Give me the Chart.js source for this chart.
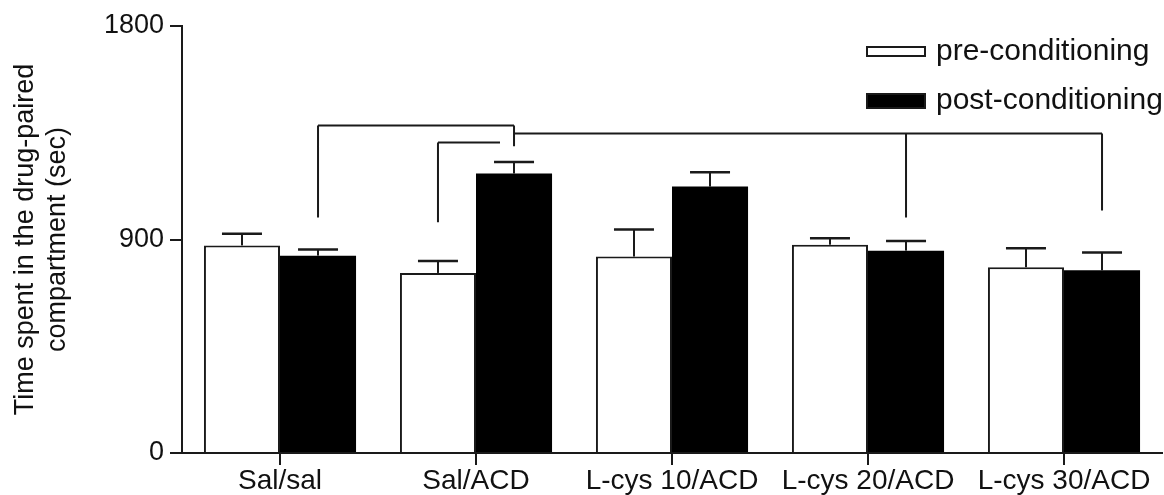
<!DOCTYPE html>
<html>
<head>
<meta charset="utf-8">
<script src="https://cdn.jsdelivr.net/npm/chart.js@4.4.0/dist/chart.umd.min.js"></script>
<style>
  html, body { margin: 0; padding: 0; background: #fff; }
  #wrap { width: 1164px; height: 495px; }
</style>
</head>
<body>
<div id="wrap"><canvas id="cppChart"></canvas></div>
<script>
const groups = ['Sal/sal', 'Sal/ACD', 'L-cys 10/ACD', 'L-cys 20/ACD', 'L-cys 30/ACD'];
const preMean = [875, 759, 828, 878, 783];
const preSem = [49, 50, 114, 27, 80];
const postMean = [832, 1178, 1123, 853, 770];
const postSem = [26, 49, 61, 41, 75];
const yTicks = [0, 900, 1800];

// significance brackets: ends are [group, dataset (0 pre / 1 post), drop down to value or null]
const brackets = [
  { level: 1381, ends: [[0, 1, 993], [1, 1, 1293]] },
  { level: 1310, ends: [[1, 0, 973], [1, 1, null]], short: true },
  { level: 1348, ends: [[1, 1, null], [3, 1, 993], [4, 1, 1022]] }
];

const INK = '#1a1a1a';
const FONT = "'Liberation Sans', Arial, sans-serif";

const errorBars = {
  id: 'errorBars',
  afterDatasetsDraw(chart) {
    const { ctx, scales: { y } } = chart;
    const sems = [preSem, postSem];
    ctx.save();
    ctx.strokeStyle = INK;
    chart.data.datasets.forEach((ds, d) => {
      chart.getDatasetMeta(d).data.forEach((bar, i) => {
        const top = y.getPixelForValue(ds.data[i] + sems[d][i]);
        ctx.lineWidth = 2;
        ctx.beginPath();
        ctx.moveTo(bar.x, bar.y);
        ctx.lineTo(bar.x, top);
        ctx.stroke();
        ctx.lineWidth = 2.5;
        ctx.beginPath();
        ctx.moveTo(bar.x - 20, top);
        ctx.lineTo(bar.x + 20, top);
        ctx.stroke();
      });
    });
    ctx.restore();
  }
};

const sigBrackets = {
  id: 'sigBrackets',
  afterDatasetsDraw(chart) {
    const { ctx, scales: { y } } = chart;
    ctx.save();
    ctx.strokeStyle = INK;
    ctx.lineWidth = 2;
    brackets.forEach(b => {
      const yl = Math.round(y.getPixelForValue(b.level)) + 0.5;
      const xs = b.ends.map(([g, d]) => chart.getDatasetMeta(d).data[g].x);
      let x0 = Math.min(...xs), x1 = Math.max(...xs);
      if (b.short) x1 -= 14;
      ctx.beginPath();
      ctx.moveTo(x0, yl);
      ctx.lineTo(x1, yl);
      b.ends.forEach(([g, d, to], k) => {
        if (to === null) return;
        ctx.moveTo(xs[k], yl);
        ctx.lineTo(xs[k], y.getPixelForValue(to));
      });
      ctx.stroke();
    });
    ctx.restore();
  }
};

const boxLegend = {
  id: 'boxLegend',
  afterDraw(chart) {
    const { ctx, chartArea } = chart;
    const left = chartArea.right - 296;
    const rows = [{ top: 46, h: 11, mid: 52 }, { top: 93, h: 16, mid: 101 }];
    ctx.save();
    ctx.font = '30px ' + FONT;
    ctx.textBaseline = 'middle';
    chart.data.datasets.forEach((ds, i) => {
      const r = rows[i];
      ctx.fillStyle = ds.backgroundColor;
      ctx.fillRect(left, r.top, 60, r.h);
      ctx.strokeStyle = INK;
      ctx.lineWidth = 2;
      ctx.strokeRect(left + 1, r.top + 1, 58, r.h - 2);
      ctx.fillStyle = '#111';
      ctx.fillText(ds.label, left + 70, r.mid);
    });
    ctx.restore();
  }
};

new Chart(document.getElementById('cppChart'), {
  type: 'bar',
  data: {
    labels: groups,
    datasets: [
      {
        label: 'pre-conditioning',
        data: preMean,
        backgroundColor: '#ffffff',
        borderColor: INK,
        borderWidth: 2
      },
      {
        label: 'post-conditioning',
        data: postMean,
        backgroundColor: '#000000',
        borderColor: '#000000',
        borderWidth: 0
      }
    ]
  },
  options: {
    responsive: true,
    maintainAspectRatio: false,
    animation: false,
    layout: { padding: { top: 26, right: 2, left: 0, bottom: 0 } },
    datasets: {
      bar: { categoryPercentage: 0.776, barPercentage: 1 }
    },
    plugins: {
      legend: { display: false },
      tooltip: { enabled: false }
    },
    scales: {
      x: {
        z: 1,
        grid: { offset: false, drawOnChartArea: false, drawTicks: true, tickLength: 12, color: INK, lineWidth: 2 },
        border: { display: true, color: INK, width: 2 },
        ticks: { color: '#111', font: { family: FONT, size: 28 }, padding: -1, maxRotation: 0, autoSkip: false },
        afterFit(scale) { scale.height = 42; }
      },
      y: {
        min: 0,
        max: 1800,
        afterBuildTicks(scale) { scale.ticks = yTicks.map(v => ({ value: v })); },
        grid: { drawOnChartArea: false, drawTicks: true, tickLength: 12, color: INK, lineWidth: 2 },
        border: { display: true, color: INK, width: 2 },
        ticks: {
          color: '#111',
          font: { family: FONT, size: 27 },
          padding: 6,
          callback: v => String(v)
        },
        title: {
          display: true,
          text: ['Time spent in the drug-paired', 'compartment (sec)'],
          color: '#111',
          font: { family: FONT, size: 27, lineHeight: 1.18 },
          padding: { top: 10, bottom: 0 }
        },
        afterFit(scale) { scale.width = 182; }
      }
    }
  },
  plugins: [errorBars, sigBrackets, boxLegend]
});
</script>
</body>
</html>
